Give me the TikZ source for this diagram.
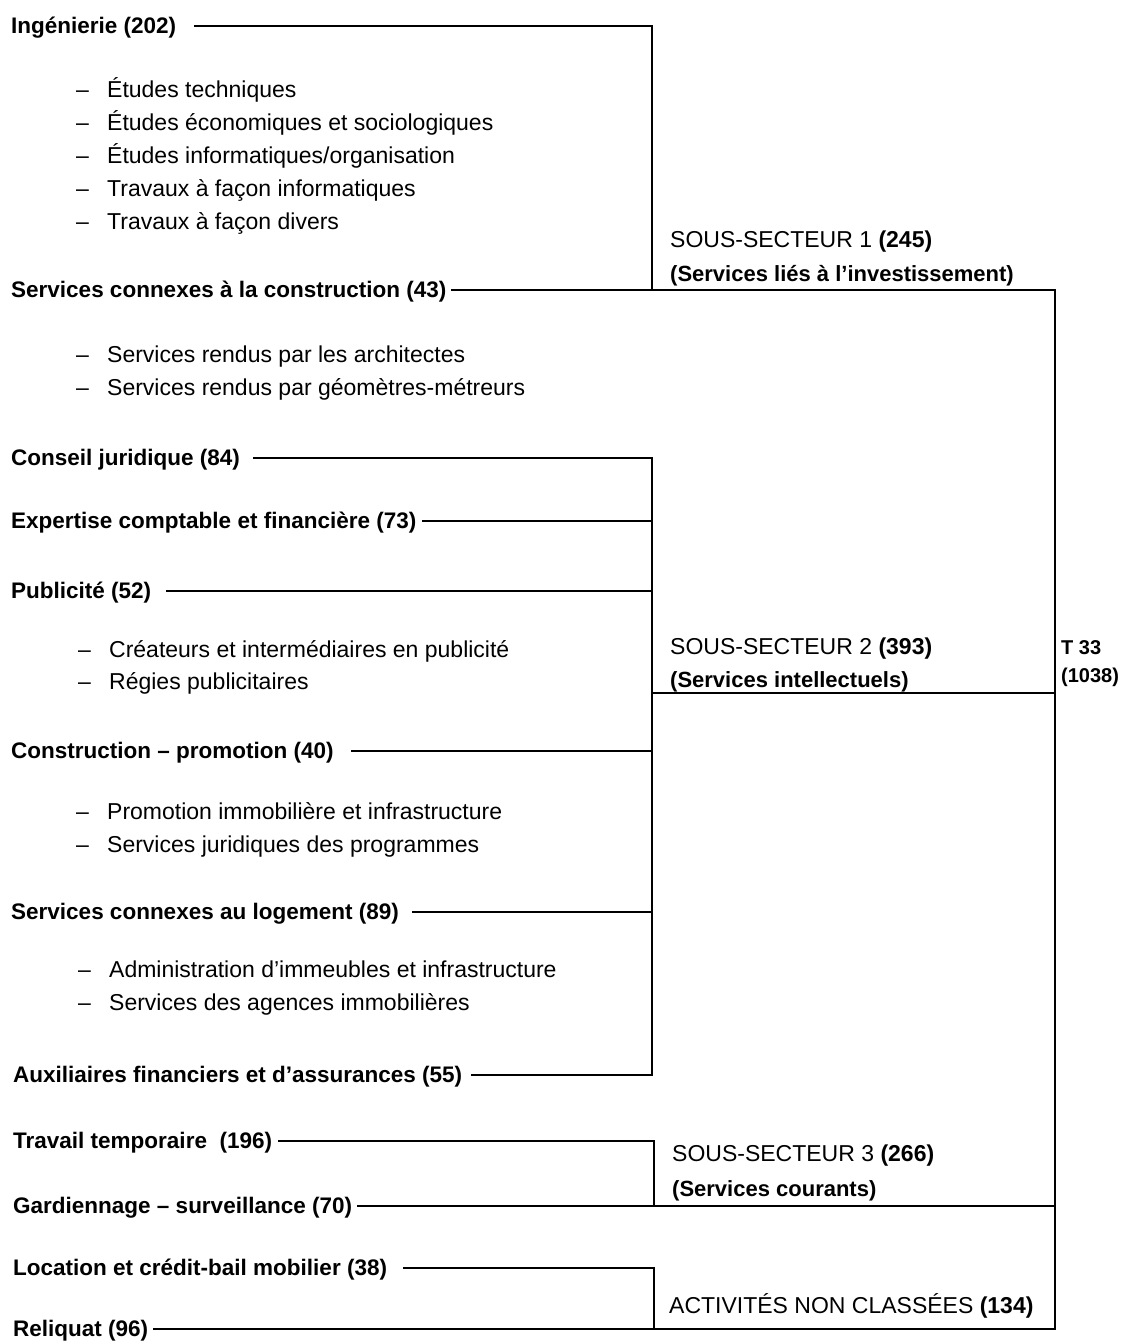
\documentclass[tikz,border=0pt]{standalone}
\usepackage{fontspec}
\setmainfont{Liberation Sans}
\newcommand\dashitem[1]{\makebox[31pt][l]{–}#1}
\begin{document}
\begin{tikzpicture}[x=1pt,y=-1pt,
  lab/.style={anchor=base west, inner sep=0pt, font=\fontsize{22.5}{27}\selectfont\bfseries},
  item/.style={anchor=base west, inner sep=0pt, font=\fontsize{23}{28}\selectfont},
  sect/.style={anchor=base west, inner sep=0pt, font=\fontsize{23}{28}\selectfont},
  sectb/.style={anchor=base west, inner sep=0pt, font=\fontsize{22}{27}\selectfont\bfseries},
  tot/.style={anchor=base west, inner sep=0pt, font=\fontsize{20}{24}\selectfont\bfseries},
  link/.style={line width=1.6pt, line join=miter, line cap=rect}]
\useasboundingbox (0,0) rectangle (1125,1341);

% ---- left labels ----
\node[lab] (ing) at (11,33) {Ingénierie (202)};
\node[lab] (scc) at (11,297) {Services connexes à la construction (43)};
\node[lab] (cj)  at (11,465) {Conseil juridique (84)};
\node[lab] (ecf) at (11,528) {Expertise comptable et financière (73)};
\node[lab] (pub) at (11,598) {Publicité (52)};
\node[lab] (cp)  at (11,758) {Construction – promotion (40)};
\node[lab] (scl) at (11,919) {Services connexes au logement (89)};
\node[lab] (afa) at (13,1082) {Auxiliaires financiers et d’assurances (55)};
\node[lab] (tt)  at (13,1148) {Travail temporaire\ \ (196)};
\node[lab] (gs)  at (13,1213) {Gardiennage – surveillance (70)};
\node[lab] (lcb) at (13,1275) {Location et crédit-bail mobilier (38)};
\node[lab] (rel) at (13,1336) {Reliquat (96)};

% ---- sub-items ----
\node[item] (i1) at (76,97)  {\dashitem{Études techniques}};
\node[item] (i2) at (76,130) {\dashitem{Études économiques et sociologiques}};
\node[item] (i3) at (76,163) {\dashitem{Études informatiques/organisation}};
\node[item] (i4) at (76,196) {\dashitem{Travaux à façon informatiques}};
\node[item] (i5) at (76,229) {\dashitem{Travaux à façon divers}};
\node[item] (i6) at (76,362) {\dashitem{Services rendus par les architectes}};
\node[item] (i7) at (76,395) {\dashitem{Services rendus par géomètres-métreurs}};
\node[item] (i8) at (78,657) {\dashitem{Créateurs et intermédiaires en publicité}};
\node[item] (i9) at (78,689) {\dashitem{Régies publicitaires}};
\node[item] (i10) at (76,819) {\dashitem{Promotion immobilière et infrastructure}};
\node[item] (i11) at (76,852) {\dashitem{Services juridiques des programmes}};
\node[item] (i12) at (78,977) {\dashitem{Administration d’immeubles et infrastructure}};
\node[item] (i13) at (78,1010) {\dashitem{Services des agences immobilières}};

% ---- sector labels ----
\node[sect]  (ss1)  at (670,247) {SOUS-SECTEUR 1 \textbf{(245)}};
\node[sectb] (ss1b) at (670,281) {(Services liés à l’investissement)};
\node[sect]  (ss2)  at (670,654) {SOUS-SECTEUR 2 \textbf{(393)}};
\node[sectb] (ss2b) at (670,687) {(Services intellectuels)};
\node[sect]  (ss3)  at (672,1161) {SOUS-SECTEUR 3 \textbf{(266)}};
\node[sectb] (ss3b) at (672,1196) {(Services courants)};
\node[sect]  (anc)  at (669,1313) {ACTIVITÉS NON CLASSÉES \textbf{(134)}};
\node[tot]   (t33)  at (1061,654) {T 33};
\node[tot]   (t33b) at (1061,682) {(1038)};

% ---- connector start points ----
\coordinate (s-ing) at ([xshift=18pt,yshift=7pt]ing.base east);
\coordinate (s-scc) at ([xshift=5pt,yshift=7pt]scc.base east);
\coordinate (s-cj)  at ([xshift=14pt,yshift=7pt]cj.base east);
\coordinate (s-ecf) at ([xshift=6pt,yshift=7pt]ecf.base east);
\coordinate (s-pub) at ([xshift=15pt,yshift=7pt]pub.base east);
\coordinate (s-cp)  at ([xshift=18pt,yshift=7pt]cp.base east);
\coordinate (s-scl) at ([xshift=14pt,yshift=7pt]scl.base east);
\coordinate (s-afa) at ([xshift=9pt,yshift=7pt]afa.base east);
\coordinate (s-tt)  at ([xshift=7pt,yshift=7pt]tt.base east);
\coordinate (s-gs)  at ([xshift=6pt,yshift=7pt]gs.base east);
\coordinate (s-lcb) at ([xshift=17pt,yshift=7pt]lcb.base east);
\coordinate (s-rel) at ([xshift=5pt,yshift=7pt]rel.base east);

\coordinate (v1) at (652,0);
\coordinate (v3) at (654,0);
\coordinate (vt) at (1055,0);
\coordinate (j2) at (652,693);

% ---- sub-sector 1 ----
\draw[link] (s-ing) -- (s-ing -| v1) -- (s-scc -| v1);
\draw[link] (s-scc) -- (s-scc -| vt);
% ---- sub-sector 2 ----
\draw[link] (s-cj) -- (s-cj -| v1) -- (s-afa -| v1) -- (s-afa);
\draw[link] (s-ecf) -- (s-ecf -| v1);
\draw[link] (s-pub) -- (s-pub -| v1);
\draw[link] (s-cp)  -- (s-cp -| v1);
\draw[link] (s-scl) -- (s-scl -| v1);
\draw[link] (j2) -- (j2 -| vt);
% ---- sub-sector 3 ----
\draw[link] (s-tt) -- (s-tt -| v3) -- (s-gs -| v3);
\draw[link] (s-gs) -- (s-gs -| vt);
% ---- non classees ----
\draw[link] (s-lcb) -- (s-lcb -| v3) -- (s-rel -| v3);
\draw[link] (s-rel) -- (s-rel -| vt);
% ---- total trunk ----
\draw[link] (s-scc -| vt) -- (s-rel -| vt);
\end{tikzpicture}
\end{document}
